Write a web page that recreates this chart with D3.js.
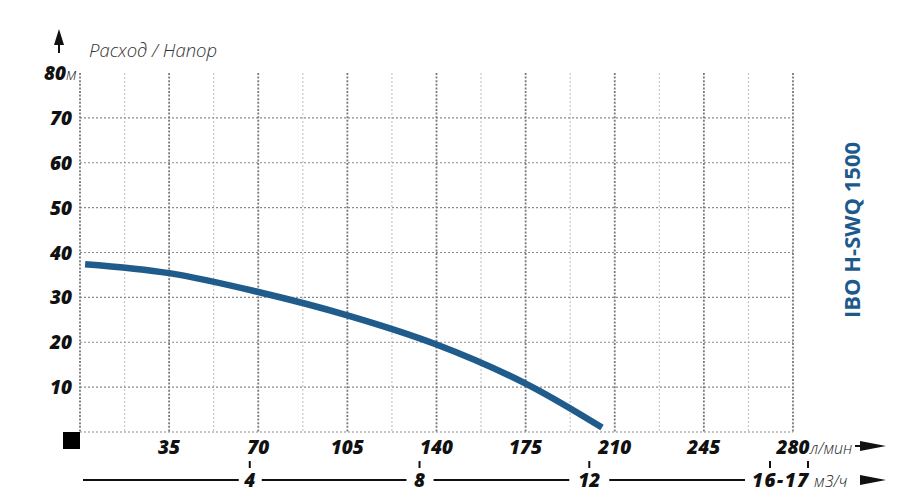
<!DOCTYPE html>
<html>
<head>
<meta charset="utf-8">
<script src="https://cdn.jsdelivr.net/npm/d3@7"></script>
<style>
  body { margin: 0; background: #fff; }
  text { font-family: "Open Sans", sans-serif; }
</style>
</head>
<body>
<div id="chart"></div>
<script>
const width = 915, height = 501;

// data
const flowTicks = [35, 70, 105, 140, 175, 210, 245, 280];
const headTicks = [10, 20, 30, 40, 50, 60, 70, 80];
const m3hTicks = [4, 8, 12];
const curveFlow = [2, 35, 70, 105, 140, 175, 205];
const curveHead = [37.4, 35.4, 31.2, 26, 19.5, 10.8, 1];
const curve = curveFlow.map((f, i) => ({f: f, h: curveHead[i]}));

const margin = {left: 80, right: 122, top: 73, bottom: 69};

const x = d3.scaleLinear().domain([0, 280]).range([margin.left, width - margin.right]);
const y = d3.scaleLinear().domain([0, 80]).range([height - margin.bottom, margin.top]);
// m3/h -> l/min
const xm = d => x(d * 1000 / 60);

const svg = d3.select("#chart").append("svg")
    .attr("width", width)
    .attr("height", height);

const grid = svg.append("g");

// light vertical lines (midpoints)
grid.selectAll(".vminor")
    .data(d3.range(17.5, 280, 35))
    .join("line")
    .attr("x1", d => x(d)).attr("x2", d => x(d))
    .attr("y1", y(80)).attr("y2", y(0))
    .attr("stroke", "#c8c8c8")
    .attr("stroke-width", 1.2)
    .attr("stroke-dasharray", "2,2");

// horizontal lines
grid.selectAll(".h")
    .data([0, 10, 20, 30, 40, 50, 60, 70])
    .join("line")
    .attr("x1", x(0)).attr("x2", x(280))
    .attr("y1", d => y(d)).attr("y2", d => y(d))
    .attr("stroke", "#8a8a8a")
    .attr("stroke-width", 1.2)
    .attr("stroke-dasharray", "2,2");

// dark vertical lines
grid.selectAll(".vmajor")
    .data([0].concat(flowTicks))
    .join("line")
    .attr("x1", d => x(d)).attr("x2", d => x(d))
    .attr("y1", y(80)).attr("y2", y(0))
    .attr("stroke", "#7a7a7a")
    .attr("stroke-width", 1.8)
    .attr("stroke-dasharray", "2,1.6");

// curve
const line = d3.line()
    .x(d => x(d.f))
    .y(d => y(d.h))
    .curve(d3.curveCatmullRom);

svg.append("path")
    .datum(curve)
    .attr("d", line)
    .attr("fill", "none")
    .attr("stroke", "#1f5b8b")
    .attr("stroke-width", 6.5);

const bold = sel => sel
    .style("font-size", "19px")
    .style("font-weight", 800)
    .style("font-style", "italic")
    .attr("fill", "#111");
const light = sel => sel
    .style("font-size", "16px")
    .style("font-weight", 300)
    .style("font-style", "italic")
    .attr("fill", "#222");

// y labels
svg.append("g").selectAll("text")
    .data(headTicks.filter(d => d != 80))
    .join("text")
    .attr("x", 72)
    .attr("y", d => y(d) + 7)
    .attr("text-anchor", "end")
    .call(bold)
    .text(d => d);

svg.append("text")
    .attr("x", 66)
    .attr("y", y(80) + 7)
    .attr("text-anchor", "end")
    .call(bold)
    .text("80");
svg.append("text")
    .attr("x", 66)
    .attr("y", y(80) + 7)
    .call(light)
    .text("м");

// title
svg.append("text")
    .attr("x", 89)
    .attr("y", 57)
    .style("font-size", "18.5px")
    .style("font-weight", 300)
    .style("font-style", "italic")
    .attr("fill", "#333")
    .text("Расход / Напор");

// vertical arrow
svg.append("line")
    .attr("x1", 59).attr("x2", 59)
    .attr("y1", 42).attr("y2", 53)
    .attr("stroke", "#111").attr("stroke-width", 2);
svg.append("path")
    .attr("d", "M59,29 L54,45 L64,45 Z")
    .attr("fill", "#111");

// black square at origin
svg.append("rect")
    .attr("x", 63).attr("y", y(0))
    .attr("width", 17).attr("height", 17)
    .attr("fill", "#000");

// x labels (l/min)
svg.append("g").selectAll("text")
    .data(flowTicks)
    .join("text")
    .attr("x", d => x(d))
    .attr("y", y(0) + 22)
    .attr("text-anchor", "middle")
    .call(bold)
    .text(d => d);

svg.append("text")
    .attr("x", x(280) + 17)
    .attr("y", y(0) + 22)
    .call(light)
    .text("л/мин");

function arrow(x1, x2, yy) {
    svg.append("line")
        .attr("x1", x1).attr("x2", x2 - 20)
        .attr("y1", yy).attr("y2", yy)
        .attr("stroke", "#111").attr("stroke-width", 2);
    svg.append("path")
        .attr("d", `M${x2},${yy} L${x2 - 26},${yy - 5} L${x2 - 26},${yy + 5} Z`)
        .attr("fill", "#111");
}
arrow(855, 886, y(0) + 14);

// second axis (m3/h)
const y2 = 480;
const segs = [[83, xm(4) - 11], [xm(4) + 12, xm(8) - 13], [xm(8) + 14, xm(12) - 20], [xm(12) + 20, 745]];
svg.append("g").selectAll("line")
    .data(segs)
    .join("line")
    .attr("x1", d => d[0]).attr("x2", d => d[1])
    .attr("y1", y2).attr("y2", y2)
    .attr("stroke", "#111").attr("stroke-width", 2);

svg.append("g").selectAll("text")
    .data(m3hTicks)
    .join("text")
    .attr("x", d => xm(d))
    .attr("y", y2 + 7)
    .attr("text-anchor", "middle")
    .call(bold)
    .text(d => d);

svg.append("g").selectAll("line")
    .data(m3hTicks)
    .join("line")
    .attr("x1", d => xm(d)).attr("x2", d => xm(d))
    .attr("y1", 461).attr("y2", 468)
    .attr("stroke", "#111").attr("stroke-width", 2);

svg.append("text")
    .attr("x", 752)
    .attr("y", y2 + 7)
    .call(bold)
    .style("letter-spacing", "1.5px")
    .text("16-17");
svg.append("g").selectAll("line")
    .data([770, 808])
    .join("line")
    .attr("x1", d => d).attr("x2", d => d)
    .attr("y1", 461).attr("y2", 468)
    .attr("stroke", "#111").attr("stroke-width", 2);
svg.append("text")
    .attr("x", 814)
    .attr("y", y2 + 7)
    .call(light)
    .text("м3/ч");
arrow(860, 886, y2);

// model name
svg.append("text")
    .attr("transform", `translate(860,230) rotate(-90)`)
    .attr("text-anchor", "middle")
    .style("font-size", "22px")
    .style("font-weight", 700)
    .attr("fill", "#1d5a8c")
    .text("IBO H-SWQ 1500");
</script>
</body>
</html>
